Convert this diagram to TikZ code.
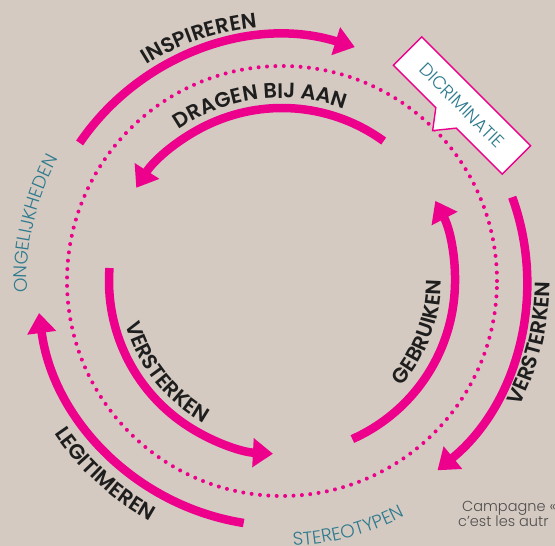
\documentclass[tikz,border=0pt]{standalone}
\usepackage{fontspec}
\setmainfont{Poppins}[BoldFont={Poppins SemiBold}]
\newfontfamily\lightfont{Poppins Light}
\usepackage{tikz}
\usetikzlibrary{arrows.meta,decorations.text}

\definecolor{bgc}{HTML}{D4CAC1}
\definecolor{pinkc}{HTML}{EC008C}
\definecolor{tealc}{HTML}{2E7A8E}
\definecolor{inkc}{HTML}{1E1E1E}
\definecolor{greyc}{HTML}{4D4D4D}

\newcommand{\verbfont}{\bfseries\fontsize{21}{21}\selectfont}
\newcommand{\themefont}{\lightfont\fontsize{18.5}{18.5}\selectfont}

\tikzset{
  flow/.style={draw=pinkc, line width=8.5pt, -{Triangle[length=20pt,width=28pt]}},
  ring/.style={draw=pinkc, line width=4pt, line cap=round, dash pattern=on 0pt off 8.4pt},
  verb/.style={decorate, decoration={text along path, text align=center, text color=inkc, text={|\verbfont|#1}}},
  theme/.style={decorate, decoration={text along path, text align=center, text color=tealc, text={|\themefont|#1}}},
  callout/.style={draw=pinkc, fill=white, line width=1.4pt},
}

\begin{document}
\begin{tikzpicture}[x=1pt, y=1pt]
	\useasboundingbox (-282,-265) rectangle (273,281);
	\fill[bgc] (-282,-265) rectangle (273,281);
	
	\coordinate (c) at (0,0);
	\draw[ring] (c) circle[radius=215];
	
	\draw[flow] (145.7:245) arc[start angle=145.7, end angle=72.7, radius=245];
	\draw[flow] (20:245) arc[start angle=20, end angle=-50.6, radius=245];
	\draw[flow] (261:245) arc[start angle=261, end angle=187.5, radius=245];
	
	\draw[flow] (54:173) arc[start angle=54, end angle=147.4, radius=173];
	\draw[flow] (-66:173) arc[start angle=-66, end angle=27.6, radius=173];
	\draw[flow] (175.7:173) arc[start angle=175.7, end angle=267, radius=173];
	
	\path[verb={INSPIREREN}] (148.8:255) arc[start angle=148.8, end angle=68.8, radius=255];
	\path[verb={DRAGEN BIJ AAN}] (147.2:183) arc[start angle=147.2, end angle=47.2, radius=183];
	\path[verb={VERSTERKEN}] (-54:268) arc[start angle=-54, end angle=26, radius=268];
	\path[verb={GEBRUIKEN}] (-60.5:159) arc[start angle=-60.5, end angle=19.5, radius=159];
	\path[verb={VERSTERKEN}] (178.3:162) arc[start angle=178.3, end angle=258.3, radius=162];
	\path[verb={LEGITIMEREN}] (187.5:274) arc[start angle=187.5, end angle=267.5, radius=274];
	
	\path[theme={ONGELIJKHEDEN}] (207:255) arc[start angle=207, end angle=127, radius=255];
	\path[theme={STEREOTYPEN}] (-115:265) arc[start angle=-115, end angle=-35, radius=265];
	
	\begin{scope}[shift={(180,175.5)}, rotate=-45]
		\draw[callout] (-77,20) -- (77,20) -- (77,-20) -- (12,-20) -- (-3,-38.5) -- (-17,-20) -- (-77,-20) -- cycle;
		\node[transform shape, text=tealc, font=\lightfont\fontsize{18}{18}\selectfont] (discr) at (0,0) {DICRIMINATIE};
	\end{scope}
	
	\node[anchor=base west, inner sep=0pt, text=greyc, font=\lightfont\fontsize{14.5}{14.5}\selectfont] (camp) at (180,-231) {Campagne «};
	\node[anchor=base west, inner sep=0pt, text=greyc, font=\lightfont\fontsize{14.5}{14.5}\selectfont] (autr) at (176,-246) {c’est les autr};
\end{tikzpicture}
\end{document}
